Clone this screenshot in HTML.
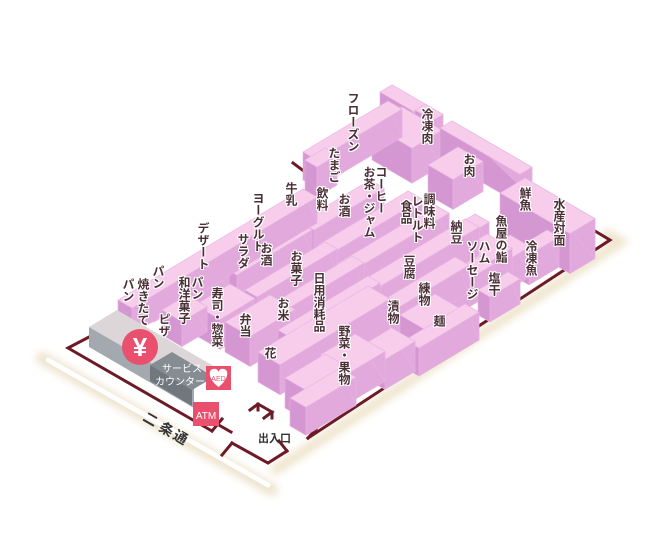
<!DOCTYPE html>
<html><head><meta charset="utf-8">
<style>
html,body{margin:0;padding:0;background:#fff;}
#wrap{position:relative;width:660px;height:544px;overflow:hidden;background:#fff;font-family:"Liberation Sans","Noto Sans CJK JP",sans-serif;}
svg{position:absolute;left:0;top:0;}
.l{position:absolute;writing-mode:vertical-rl;font-size:12px;font-weight:bold;color:#4a2f35;line-height:13px;letter-spacing:0px;
text-shadow:1px 0 #fff,-1px 0 #fff,0 1px #fff,0 -1px #fff,1px 1px #fff,-1px -1px #fff,1px -1px #fff,-1px 1px #fff;}
</style></head><body>
<div id="wrap">
<svg id="s" width="660" height="544" viewBox="0 0 660 544">
<defs>
<filter id="bl" x="-20%" y="-20%" width="140%" height="140%"><feGaussianBlur stdDeviation="4"/></filter>
</defs>
<line x1="42" y1="358" x2="272" y2="490" stroke="#eee3cc" stroke-width="12" stroke-linecap="round" filter="url(#bl)"/>
<line x1="48" y1="360" x2="268" y2="485" stroke="#fff" stroke-width="5" stroke-linecap="round"/>
<polyline points="272,472 620,242 604,232" fill="none" stroke="#efe4cc" stroke-width="10" filter="url(#bl)"/>
<g stroke="#6b1a26" stroke-width="3" fill="none" stroke-linecap="square">
<polyline points="89,337 68,348 212,431"/>
<polyline points="232,443 268,463 287,451"/>
<polyline points="308,438 610,240 595,231"/>
<line x1="293" y1="163" x2="317" y2="181"/>
<path d="M212,431 l10,-12 M217,424 l14,8 M232,443 l-10,12"/>
<path d="M287,451 l-8,-10 M308,438 l8,-9 M302,426 l10,6"/>
<path d="M250,410 l8,-6 l14,8 l-8,6 M258,404 l0,6 M272,412 l0,6"/>
</g>
<g id="boxes"></g>
<polygon points="89,327 117,310 222,371 194,388" fill="#dcd6d9"/>
<polygon points="89,327 194,388 194,408 89,347" fill="#a3a9ae"/>
<polygon points="150,365 172,352 214,377 192,390" fill="#858c92"/>
<polygon points="150,365 192,390 192,406 150,381" fill="#70777d"/>
<circle cx="140" cy="347" r="18" fill="#e8506e"/>
<text x="140" y="356" font-size="26" font-weight="bold" fill="#fff" text-anchor="middle" font-family="Liberation Sans,sans-serif">¥</text>
<text x="182" y="372" font-size="10" fill="#fff" text-anchor="middle" font-family="Liberation Sans,Noto Sans CJK JP,sans-serif">サービス</text>
<text x="180" y="385" font-size="10" fill="#fff" text-anchor="middle" font-family="Liberation Sans,Noto Sans CJK JP,sans-serif">カウンター</text>
<rect x="206" y="366" width="25" height="24" fill="#e8506e"/>
<path d="M218.5,387 C208,379 208,370 213,369 C216,368 218,370 218.5,372 C219,370 221,368 224,369 C229,370 229,379 218.5,387Z" fill="#fff"/>
<text x="218.5" y="381" font-size="7" fill="#e8506e" text-anchor="middle" font-family="Liberation Sans,sans-serif">AED</text>
<rect x="193" y="402" width="26" height="24" fill="#e8506e"/>
<text x="206" y="419" font-size="10" fill="#fff" text-anchor="middle" font-family="Liberation Sans,sans-serif">ATM</text>
<text x="258" y="442" font-size="11" font-weight="bold" fill="#333" font-family="Liberation Sans,Noto Sans CJK JP,sans-serif">出入口</text>
<g font-size="14" font-weight="bold" fill="#333" font-family="Liberation Sans,Noto Sans CJK JP,sans-serif">
<text transform="translate(142,420) rotate(30)">二</text>
<text transform="translate(158,430) rotate(30)">条</text>
<text transform="translate(172,438) rotate(30)">通</text>
</g>
</svg>
<div class="l" style="left:346px;top:92px">フローズン</div>
<div class="l" style="left:420px;top:108px">冷凍肉</div>
<div class="l" style="left:327px;top:147px">たまご</div>
<div class="l" style="left:462px;top:153px">お肉</div>
<div class="l" style="left:374px;top:166px">コーヒー</div>
<div class="l" style="left:362px;top:166px">お茶・ジャム</div>
<div class="l" style="left:337px;top:193px">お酒</div>
<div class="l" style="left:422px;top:193px">調味料</div>
<div class="l" style="left:410px;top:195px">レトルト</div>
<div class="l" style="left:399px;top:200px">食品</div>
<div class="l" style="left:449px;top:220px">納豆</div>
<div class="l" style="left:518px;top:187px">鮮魚</div>
<div class="l" style="left:552px;top:198px">水産対面</div>
<div class="l" style="left:494px;top:215px">魚屋の鮨</div>
<div class="l" style="left:524px;top:240px">冷凍魚</div>
<div class="l" style="left:477px;top:240px">ハム</div>
<div class="l" style="left:465px;top:240px">ソーセージ</div>
<div class="l" style="left:487px;top:272px">塩干</div>
<div class="l" style="left:402px;top:255px">豆腐</div>
<div class="l" style="left:417px;top:282px">練物</div>
<div class="l" style="left:432px;top:315px">麺</div>
<div class="l" style="left:386px;top:300px">漬物</div>
<div class="l" style="left:312px;top:272px">日用消耗品</div>
<div class="l" style="left:337px;top:325px">野菜・果物</div>
<div class="l" style="left:284px;top:182px">牛乳</div>
<div class="l" style="left:315px;top:187px">飲料</div>
<div class="l" style="left:251px;top:192px">ヨーグルト</div>
<div class="l" style="left:196px;top:222px">デザート</div>
<div class="l" style="left:236px;top:233px">サラダ</div>
<div class="l" style="left:259px;top:242px">お酒</div>
<div class="l" style="left:289px;top:250px">お菓子</div>
<div class="l" style="left:276px;top:297px">お米</div>
<div class="l" style="left:263px;top:347px">花</div>
<div class="l" style="left:238px;top:313px">弁当</div>
<div class="l" style="left:210px;top:287px">寿司・惣菜</div>
<div class="l" style="left:157px;top:313px">ピザ</div>
<div class="l" style="left:190px;top:276px">パン</div>
<div class="l" style="left:177px;top:276px">和洋菓子</div>
<div class="l" style="left:151px;top:265px">パン</div>
<div class="l" style="left:136px;top:278px">焼きたて</div>
<div class="l" style="left:121px;top:278px">パン</div>
</div>
<script>
var B=[
[118,300,185,14,26],[303,152,85,14,28],[380,92,12,40,30],[372,125,30,40,35],[305,160,20,12,30],
[415,110,10,18,40],[440,128,12,80,30],[428,165,30,25,30],[500,193,25,70,40],
[517,248,30,12,30],[485,250,25,20,30],[478,290,30,12,25],[452,255,35,25,30],[440,235,35,14,28],
[300,222,70,14,28],[318,245,90,14,28],[335,265,100,14,28],[355,285,110,14,28],[375,305,80,14,28],
[225,268,75,12,25],[245,290,80,12,25],[262,310,90,12,25],[278,330,90,12,25],[258,352,110,22,30],
[195,305,35,25,30],[225,322,45,25,30],[162,310,25,20,25],[175,285,40,14,25],[140,292,25,14,22],
[285,378,40,25,30],[320,355,35,30,30],[360,345,30,25,30],[400,315,35,25,30],[405,340,60,14,28],[440,280,40,14,28],
[290,398,50,16,28]
];
var g=document.getElementById('boxes'),ns='http://www.w3.org/2000/svg';
B.sort(function(a,b){return (a[1]+a[3]*0.58)-(b[1]+b[3]*0.58);});
function P(p){return p.map(function(q){return q[0].toFixed(1)+','+q[1].toFixed(1)}).join(' ');}
function poly(pts,f){var e=document.createElementNS(ns,'polygon');e.setAttribute('points',P(pts));e.setAttribute('fill',f);e.setAttribute('stroke','#e7b3e2');e.setAttribute('stroke-width','0.6');g.appendChild(e);}
B.forEach(function(b){var x=b[0],y=b[1],L=b[2],W=b[3],H=b[4];
var A=[x,y],Bp=[x+L,y-0.6*L],C=[x+L+W,y-0.6*L+0.58*W],D=[x+W,y+0.58*W];
function dn(p){return [p[0],p[1]+H];}
poly([A,D,dn(D),dn(A)],'#d497d2');
poly([D,C,dn(C),dn(D)],'#e2a9dc');
poly([Bp,C,dn(C)],'#e2a9dc');
poly([A,Bp,C,D],'#f7cdeb');
});
</script>
</body></html>
